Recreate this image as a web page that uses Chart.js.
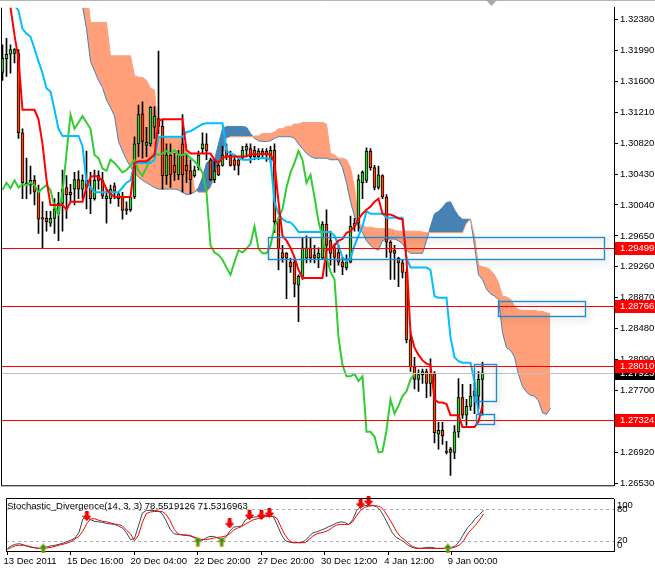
<!DOCTYPE html>
<html>
<head>
<meta charset="utf-8">
<script src="https://cdn.jsdelivr.net/npm/chart.js@4.4.1/dist/chart.umd.min.js"></script>
<style>
  html, body { margin: 0; padding: 0; background: #fff; }
  #wrap { position: relative; width: 655px; height: 569px; overflow: hidden; background: #fff; }
  #wrap canvas { position: absolute; left: 0; }
  #main { top: 0; }
  #stoch { top: 493px; }
</style>
</head>
<body>
<div id="wrap">
  <canvas id="main" width="655" height="493"></canvas>
  <canvas id="stoch" width="655" height="76"></canvas>
</div>
<script>
/* EURUSD H4 - Ichimoku + Stochastic_Divergence */

const opens = [
  1.3171,1.3188,1.3194,1.3195,1.3195,1.3095,1.3032,1.3029,1.3035,1.3020,
  1.2988,1.2987,1.2981,1.2987,1.2993,1.3006,1.3026,1.3020,1.3024,1.3036,
  1.3024,1.3035,1.3026,1.3012,1.3041,1.3035,1.3012,1.3012,1.3028,1.3012,
  1.3015,1.2997,1.2998,1.3014,1.3081,1.3119,1.3079,1.3081,1.3102,1.3113,
  1.3103,1.3041,1.3067,1.3054,1.3042,1.3081,1.3054,1.3047,1.3041,1.3051,
  1.3075,1.3081,1.3061,1.3036,1.3054,1.3054,1.3073,1.3067,1.3061,1.3061,
  1.3063,1.3073,1.3075,1.3073,1.3065,1.3072,1.3072,1.3061,1.3073,1.2986,
  1.2944,1.2943,1.2932,1.2932,1.2903,1.2914,1.2937,1.2950,1.2941,1.2937,
  1.2937,1.2980,1.2959,1.2950,1.2944,1.2932,1.2925,1.2932,1.2977,1.2981,
  1.3032,1.3035,1.3072,1.3051,1.3026,1.3041,1.3014,1.2957,1.2947,1.2937,
  1.2931,1.2919,1.2834,1.2800,1.2784,1.2790,1.2794,1.2779,1.2791,1.2715,
  1.2720,1.2693,1.2696,1.2692,1.2718,1.2761,1.2739,1.2750,1.2769,1.2763,
  1.2784
];
const highs = [
  1.3206,1.3214,1.3206,1.3201,1.3200,1.3100,1.3063,1.3053,1.3041,1.3029,
  1.3008,1.2996,1.2996,1.3012,1.3020,1.3048,1.3041,1.3030,1.3045,1.3047,
  1.3042,1.3072,1.3045,1.3048,1.3047,1.3045,1.3024,1.3029,1.3032,1.3020,
  1.3020,1.3008,1.3014,1.3090,1.3130,1.3134,1.3102,1.3128,1.3128,1.3198,
  1.3112,1.3081,1.3081,1.3069,1.3073,1.3118,1.3067,1.3061,1.3053,1.3072,
  1.3095,1.3094,1.3063,1.3059,1.3059,1.3078,1.3081,1.3072,1.3067,1.3065,
  1.3078,1.3081,1.3081,1.3078,1.3075,1.3075,1.3075,1.3078,1.3081,1.2987,
  1.2953,1.2944,1.2937,1.2937,1.2916,1.2963,1.2965,1.2963,1.2953,1.2950,
  1.2983,1.2998,1.2971,1.2955,1.2953,1.2938,1.2941,1.2990,1.2987,1.3042,
  1.3047,1.3076,1.3075,1.3054,1.3053,1.3042,1.3017,1.2959,1.2953,1.2938,
  1.2935,1.2922,1.2845,1.2812,1.2796,1.2797,1.2797,1.2810,1.2794,1.2730,
  1.2730,1.2706,1.2698,1.2726,1.2785,1.2778,1.2759,1.2778,1.2779,1.2794,
  1.2806
];
const lows = [
  1.3161,1.3166,1.3170,1.3183,1.3088,1.3012,1.3012,1.3018,1.3004,1.2968,
  1.2949,1.2971,1.2977,1.2968,1.2959,1.2971,1.2987,1.3008,1.3004,1.3012,
  1.3012,1.2999,1.2993,1.3010,1.3024,1.3012,1.2981,1.3006,1.3012,1.3002,
  1.2986,1.2992,1.2996,1.3012,1.3065,1.3063,1.3065,1.3078,1.3088,1.3094,
  1.3024,1.3030,1.3026,1.3035,1.3036,1.3020,1.3032,1.3018,1.3039,1.3048,
  1.3069,1.3061,1.3035,1.3032,1.3041,1.3053,1.3061,1.3053,1.3048,1.3042,
  1.3061,1.3065,1.3057,1.3061,1.3061,1.3063,1.3059,1.3057,1.2969,1.2922,
  1.2932,1.2886,1.2919,1.2888,1.2857,1.2910,1.2931,1.2932,1.2931,1.2925,
  1.2935,1.2914,1.2928,1.2919,1.2928,1.2916,1.2922,1.2931,1.2971,1.2971,
  1.3012,1.3032,1.3048,1.3023,1.3024,1.3012,1.2938,1.2910,1.2910,1.2901,
  1.2912,1.2830,1.2794,1.2772,1.2769,1.2779,1.2761,1.2763,1.2704,1.2696,
  1.2702,1.2690,1.2663,1.2684,1.2711,1.2735,1.2726,1.2745,1.2741,1.2747,
  1.2739
];
const closes = [
  1.3189,1.3194,1.3200,1.3200,1.3095,1.3032,1.3029,1.3035,1.3020,1.2986,
  1.2986,1.2983,1.2987,1.2999,1.3006,1.3024,1.3017,1.3017,1.3036,1.3024,
  1.3035,1.3026,1.3012,1.3035,1.3035,1.3015,1.3015,1.3024,1.3021,1.3018,
  1.2997,1.2999,1.3014,1.3081,1.3118,1.3084,1.3083,1.3127,1.3116,1.3103,
  1.3041,1.3067,1.3042,1.3045,1.3067,1.3042,1.3047,1.3036,1.3048,1.3067,
  1.3081,1.3072,1.3036,1.3047,1.3042,1.3067,1.3065,1.3054,1.3054,1.3054,
  1.3073,1.3078,1.3065,1.3065,1.3072,1.3067,1.3067,1.3073,1.2983,1.2949,
  1.2937,1.2937,1.2926,1.2904,1.2914,1.2950,1.2950,1.2937,1.2937,1.2943,
  1.2980,1.2953,1.2943,1.2938,1.2932,1.2926,1.2932,1.2977,1.2981,1.3036,
  1.3045,1.3072,1.3051,1.3026,1.3042,1.3014,1.2957,1.2944,1.2943,1.2931,
  1.2919,1.2834,1.2800,1.2784,1.2790,1.2794,1.2779,1.2791,1.2717,1.2720,
  1.2713,1.2692,1.2692,1.2718,1.2761,1.2739,1.2750,1.2763,1.2763,1.2784,
  1.27923
];

const tenkan = [
  1.3302,1.3277,1.3253,1.3218,1.3188,1.3124,1.3124,1.3124,1.3124,1.3112,
  1.3081,1.3036,1.3004,1.3004,1.3004,1.3004,1.2998,1.3008,1.3008,1.3008,
  1.3008,1.3026,1.3039,1.3041,1.3039,1.3035,1.3024,1.3018,1.3014,1.3014,
  1.3014,1.3014,1.3014,1.3057,1.3059,1.3059,1.3059,1.3063,1.3067,1.3110,
  1.3112,1.3112,1.3112,1.3112,1.3112,1.3112,1.3073,1.3069,1.3069,1.3069,
  1.3069,1.3069,1.3069,1.3061,1.3057,1.3063,1.3065,1.3065,1.3065,1.3065,
  1.3065,1.3065,1.3068,1.3068,1.3068,1.3068,1.3068,1.3068,1.3057,1.3008,
  1.2965,1.2959,1.2950,1.2938,1.2922,1.2912,1.2912,1.2912,1.2912,1.2912,
  1.2912,1.2947,1.2949,1.2953,1.2959,1.2961,1.2969,1.2971,1.2977,1.2986,
  1.2993,1.2998,1.3002,1.3008,1.3012,1.2993,1.2992,1.2992,1.2990,1.2987,
  1.2986,1.2935,1.2843,1.2824,1.2815,1.2808,1.2804,1.2802,1.2759,1.2755,
  1.2755,1.2753,1.2739,1.2739,1.2739,1.2724,1.2724,1.2724,1.2724,1.2731,
  1.2751
];
const kijun = [
  1.3289,1.3277,1.3265,1.3256,1.3249,1.3226,1.3220,1.3216,1.3201,1.3185,
  1.3170,1.3151,1.3147,1.3124,1.3100,1.3091,1.3091,1.3091,1.3091,1.3091,
  1.3078,1.3032,1.3026,1.3020,1.3020,1.3020,1.3020,1.3020,1.3020,1.3020,
  1.3026,1.3032,1.3035,1.3057,1.3057,1.3057,1.3057,1.3057,1.3061,1.3090,
  1.3090,1.3090,1.3090,1.3090,1.3090,1.3090,1.3096,1.3097,1.3100,1.3103,
  1.3106,1.3107,1.3107,1.3107,1.3107,1.3107,1.3072,1.3069,1.3067,1.3063,
  1.3061,1.3061,1.3061,1.3063,1.3063,1.3063,1.3063,1.3061,1.3008,1.2993,
  1.2986,1.2983,1.2982,1.2977,1.2970,1.2970,1.2970,1.2970,1.2970,1.2970,
  1.2970,1.2970,1.2970,1.2965,1.2953,1.2938,1.2933,1.2937,1.2953,1.2965,
  1.2977,1.2996,1.2993,1.2993,1.2993,1.2993,1.2988,1.2988,1.2988,1.2988,
  1.2988,1.2937,1.2925,1.2925,1.2925,1.2925,1.2925,1.2922,1.2889,1.2887,
  1.2887,1.2887,1.2837,1.2812,1.2807,1.2805,1.2805,1.2805,1.2782,1.2741,
  1.2739
];
// chikou span, plotted from bar 0
const chikou = [
  1.3023,1.3032,1.3025,1.3035,1.3026,1.3030,1.3029,1.3032,1.3029,1.3020,
  1.3025,1.3029,1.3023,1.3002,1.2993,1.3020,1.3069,1.3118,1.3100,1.3108,
  1.3116,1.3108,1.3100,1.3067,1.3063,1.3050,1.3047,1.3061,1.3057,1.3051,
  1.3045,1.3048,1.3054,1.3061,1.3047,1.3041,1.3051,1.3063,1.3069,1.3067,
  1.3069,1.3072,1.3069,1.3073,1.3067,1.3067,1.3069,1.3063,1.3059,1.3053,
  1.3045,1.3020,1.2953,1.2944,1.2941,1.2935,1.2925,1.2916,1.2932,1.2947,
  1.2944,1.2949,1.2955,1.2977,1.2949,1.2943,1.2943,1.2953,1.2977,1.2987,
  1.2999,1.3026,1.3045,1.3057,1.3072,1.3061,1.3032,1.3042,1.3014,1.2983,
  1.2963,1.2937,1.2920,1.2910,1.2837,1.2802,1.2788,1.2788,1.2791,1.2782,
  1.2788,1.2718,1.2718,1.2712,1.2692,1.2693,1.2720,1.2759,1.2741,1.2751,
  1.2763,1.2769,1.2784,1.2791
];
// cloud, starting at bar 20
const cloudStart = 20;
const spanA = [
  1.3255,1.3226,1.3185,1.3173,1.3161,1.3152,1.3136,1.3127,1.3116,1.3084,
  1.3072,1.3061,1.3052,1.3045,1.3039,1.3035,1.3032,1.3029,1.3026,1.3024,
  1.3024,1.3024,1.3024,1.3024,1.3023,1.3020,1.3017,1.3018,1.3020,1.3026,
  1.3039,1.3057,1.3061,1.3061,1.3081,1.3100,1.3103,1.3103,1.3103,1.3103,
  1.3103,1.3102,1.3094,1.3088,1.3085,1.3084,1.3084,1.3085,1.3088,1.3090,
  1.3090,1.3090,1.3090,1.3088,1.3081,1.3075,1.3069,1.3065,1.3063,1.3063,
  1.3063,1.3063,1.3061,1.3061,1.3061,1.3051,1.3032,1.3008,1.2990,1.2977,
  1.2969,1.2959,1.2953,1.2949,1.2947,1.2959,1.2961,1.2961,1.2961,1.2959,
  1.2955,1.2947,1.2943,1.2943,1.2943,1.2943,1.2959,1.2977,1.2993,1.2996,
  1.3001,1.3007,1.3008,1.2998,1.2990,1.2986,1.2986,1.2986,1.2953,1.2916,
  1.2910,1.2898,1.2892,1.2889,1.2885,1.2843,1.2824,1.2821,1.2812,1.2790,
  1.2775,1.2768,1.2764,1.2763,1.2757,1.2742,1.2740,1.2748
];
const spanB = [
  1.3302,1.3277,1.3234,1.3234,1.3234,1.3234,1.3234,1.3192,1.3192,1.3192,
  1.3192,1.3192,1.3192,1.3167,1.3165,1.3165,1.3161,1.3151,1.3149,1.3090,
  1.3090,1.3090,1.3090,1.3090,1.3090,1.3090,1.3069,1.3057,1.3023,1.3020,
  1.3020,1.3020,1.3026,1.3039,1.3057,1.3063,1.3088,1.3090,1.3090,1.3090,
  1.3090,1.3090,1.3090,1.3091,1.3091,1.3094,1.3094,1.3094,1.3096,1.3100,
  1.3100,1.3103,1.3103,1.3106,1.3106,1.3108,1.3108,1.3108,1.3108,1.3108,
  1.3108,1.3106,1.3069,1.3067,1.3063,1.3063,1.3061,1.3051,1.3026,1.2981,
  1.2977,1.2976,1.2976,1.2975,1.2974,1.2974,1.2974,1.2974,1.2972,1.2971,
  1.2971,1.2971,1.2971,1.2971,1.2971,1.2970,1.2969,1.2969,1.2969,1.2969,
  1.2969,1.2969,1.2969,1.2969,1.2969,1.2969,1.2981,1.2986,1.2965,1.2928,
  1.2926,1.2925,1.2922,1.2916,1.2906,1.2889,1.2888,1.2885,1.2877,1.2872,
  1.2871,1.2871,1.2871,1.2871,1.2870,1.2870,1.2868,1.2867
];

const stochMain = [
  5,10,13,14,12,9,7,6,5,6,
  8,10,11,13,15,18,21,25,35,62,
  65,60,57,56,55,53,52,51,48,44,
  35,22,24,48,73,78,78,78,77,72,
  58,42,33,32,31,30,29,26,22,20,
  25,28,28,25,22,26,38,46,47,48,
  60,64,65,66,68,68,68,66,50,32,
  20,17,16,16,16,20,28,35,37,40,
  43,47,50,54,56,55,51,60,78,85,
  87,88,88,85,78,65,50,35,26,22,
  17,11,7,5,5,6,7,7,5,5,
  5,6,7,10,20,33,45,53,63,70,
  78.55
];
const stochSignal = [
  3,7,10,11,11,10,8,6,5,5,
  6,7,9,11,13,15,18,23,28,38,
  53,62,62,59,57,56,54,52,51,48,
  40,33,20,30,55,72,75,76,76,76,
  70,58,42,33,31,31,30,27,24,22,
  22,23,25,26,27,29,33,40,44,47,
  52,56,60,62,64,66,67,67,62,45,
  30,20,16,16,16,16,22,29,33,35,
  37,40,46,50,51,51,51,56,68,78,
  84,86,87,87,85,77,65,52,38,28,
  22,15,9,6,5,5,5,5,5,5,
  5,5,6,8,12,20,33,42,50,60,
  71.53
];
const downArrowBars = [20, 56, 61, 64, 66, 89, 91];
const downArrowVals = [67, 53, 69, 69, 73, 91, 96];
const upArrowBars = [9, 48, 54, 111];
const upArrowVals = [5, 18, 18, 5];

const priceTicks = [1.32380,1.31990,1.31600,1.31210,1.30820,1.30430,1.30040,1.29650,
                    1.29260,1.28870,1.28480,1.28090,1.27700,1.26920,1.26530];
const timeTickBars = [0, 16, 32, 48, 64, 80, 96, 112];
const timeTickLabels = ['13 Dec 2011','15 Dec 16:00','20 Dec 04:00','22 Dec 20:00',
                        '27 Dec 20:00','30 Dec 12:00','4 Jan 12:00','9 Jan 00:00'];

const redLevels = [1.29499, 1.28766, 1.28010, 1.27324];
const bidLevel = 1.27923;
// [fromBar, toBar, priceTop, priceBottom]
const boxes = [
  [66.25, 150.25, 1.2964, 1.2936],
  [123.75, 145.5, 1.2883, 1.2864],
  [117.75, 123.25, 1.2804, 1.2757],
  [118.25, 122.75, 1.2741, 1.2728]
];
const stochTitle = 'Stochastic_Divergence(14, 3, 3) 78.5519126 71.5316963';

const FONT = '"Liberation Sans", Arial, sans-serif';
const FSIZE = 9.5;
const X_MIN = -0.375, X_MAX = 152.875;
const SALMON = '#ffa07a', STEEL = '#4682b4';

const pts = (arr, from = 0) => arr.map((v, i) => ({ x: i + from, y: v }));
const barIdx = opens.map((_, i) => i);

function makeArrow(fill, edge, up) {
  const c = document.createElement('canvas');
  c.width = 9; c.height = 10;
  const g = c.getContext('2d');
  g.beginPath();
  if (up) {
    g.moveTo(4.5, 0.5); g.lineTo(8.5, 5); g.lineTo(6, 5); g.lineTo(6, 9.5);
    g.lineTo(3, 9.5); g.lineTo(3, 5); g.lineTo(0.5, 5);
  } else {
    g.moveTo(4.5, 9.5); g.lineTo(8.5, 5); g.lineTo(6, 5); g.lineTo(6, 0.5);
    g.lineTo(3, 0.5); g.lineTo(3, 5); g.lineTo(0.5, 5);
  }
  g.closePath();
  g.fillStyle = fill; g.fill();
  g.strokeStyle = edge; g.lineWidth = 1; g.stroke();
  return c;
}
const arrowDown = makeArrow('#ff0000', '#e00000', false);
const arrowUp = makeArrow('#1a9a1a', '#d0a020', true);

function priceLabel(ctx, y, text, bg) {
  ctx.fillStyle = bg;
  ctx.fillRect(615, Math.round(y) - 6, 40, 13);
  ctx.fillStyle = '#fff';
  ctx.font = FSIZE + 'px ' + FONT;
  ctx.textBaseline = 'middle';
  ctx.textAlign = 'left';
  ctx.fillText(text, 620, Math.round(y) + 0.5);
}

const mainOverlay = {
  id: 'mainOverlay',
  afterDatasetsDraw(chart) {
    const { ctx, chartArea: a, scales: { x, y } } = chart;
    ctx.save();
    ctx.beginPath();
    ctx.rect(a.left, a.top, a.right - a.left, a.bottom - a.top);
    ctx.clip();
    // bid line
    let yb = Math.round(y.getPixelForValue(bidLevel)) + 0.5;
    ctx.strokeStyle = '#c0c0c0'; ctx.lineWidth = 1;
    ctx.beginPath(); ctx.moveTo(a.left, yb); ctx.lineTo(a.right, yb); ctx.stroke();
    // red levels
    ctx.strokeStyle = '#ff0000';
    redLevels.forEach(v => {
      const py = Math.round(y.getPixelForValue(v)) + 0.5;
      ctx.beginPath(); ctx.moveTo(a.left, py); ctx.lineTo(a.right, py); ctx.stroke();
    });
    // rectangles with soft shadow
    boxes.forEach(b => {
      const x0 = Math.round(x.getPixelForValue(b[0])) + 0.5;
      const x1 = Math.round(x.getPixelForValue(b[1])) + 0.5;
      const y0 = Math.round(y.getPixelForValue(b[2])) + 0.5;
      const y1 = Math.round(y.getPixelForValue(b[3])) + 0.5;
      ctx.save();
      ctx.shadowColor = 'rgba(0,0,0,0.35)';
      ctx.shadowBlur = 7; ctx.shadowOffsetX = 2; ctx.shadowOffsetY = 3;
      ctx.strokeStyle = '#1f8ad0'; ctx.lineWidth = 1.2;
      ctx.strokeRect(x0, y0, x1 - x0, y1 - y0);
      ctx.restore();
      ctx.strokeStyle = '#1f8ad0'; ctx.lineWidth = 1.2;
      ctx.strokeRect(x0, y0, x1 - x0, y1 - y0);
    });
    ctx.restore();
  },
  afterDraw(chart) {
    const { ctx, chartArea: a, scales: { y } } = chart;
    ctx.save();
    ctx.strokeStyle = '#000'; ctx.lineWidth = 1;
    ctx.beginPath();
    ctx.moveTo(a.left + 0.5, a.top); ctx.lineTo(a.left + 0.5, a.bottom + 0.5);
    ctx.lineTo(a.right, a.bottom + 0.5);
    ctx.stroke();
    // window edge on top
    ctx.strokeStyle = '#b4b4b4';
    ctx.beginPath(); ctx.moveTo(0, 0.5); ctx.lineTo(655, 0.5); ctx.stroke();
    // shift marker
    ctx.fillStyle = '#a8a8a8';
    ctx.beginPath(); ctx.moveTo(486, 0); ctx.lineTo(497, 0); ctx.lineTo(491.5, 6); ctx.closePath(); ctx.fill();
    // price labels on the axis
    priceLabel(ctx, y.getPixelForValue(bidLevel), bidLevel.toFixed(5), '#000');
    redLevels.forEach(v => priceLabel(ctx, y.getPixelForValue(v), v.toFixed(5), '#ff0000'));
    ctx.restore();
  }
};

new Chart(document.getElementById('main'), {
  type: 'bar',
  data: {
    datasets: [
      { type: 'line', label: 'Senkou Span A', data: pts(spanA, cloudStart),
        borderColor: STEEL, borderWidth: 1, pointRadius: 0, tension: 0,
        fill: { target: 1, above: STEEL, below: SALMON }, order: 10 },
      { type: 'line', label: 'Senkou Span B', data: pts(spanB, cloudStart),
        borderColor: SALMON, borderWidth: 1, pointRadius: 0, tension: 0, fill: false, order: 9 },
      { label: 'Wicks', data: barIdx.map(i => ({ x: i, y: [lows[i], highs[i]] })),
        backgroundColor: '#000', barThickness: 1, grouped: false, order: 8 },
      { label: 'Bodies', data: barIdx.map(i => ({ x: i, y: [opens[i], closes[i]] })),
        backgroundColor: barIdx.map(i => closes[i] >= opens[i] ? '#32cd32' : '#ff4500'),
        borderColor: '#000', borderWidth: 1, borderSkipped: false,
        barThickness: 3, minBarLength: 1, grouped: false, order: 7 },
      { type: 'line', label: 'Chikou Span', data: pts(chikou),
        borderColor: '#32cd32', borderWidth: 2, pointRadius: 0, tension: 0, order: 5 },
      { type: 'line', label: 'Kijun-sen', data: pts(kijun),
        borderColor: '#00bfff', borderWidth: 2, pointRadius: 0, tension: 0, order: 4 },
      { type: 'line', label: 'Tenkan-sen', data: pts(tenkan),
        borderColor: '#ff0000', borderWidth: 2, pointRadius: 0, tension: 0, order: 3 }
    ]
  },
  options: {
    responsive: false,
    animation: false,
    devicePixelRatio: 1,
    layout: { padding: { left: 1, right: 0, top: 0, bottom: 1 } },
    plugins: { legend: { display: false }, tooltip: { enabled: false } },
    scales: {
      x: { type: 'linear', min: X_MIN, max: X_MAX, offset: false, display: false },
      y: {
        type: 'linear', position: 'right',
        min: 1.265055, max: 1.325269,
        afterBuildTicks: s => { s.ticks = priceTicks.map(v => ({ value: v })); },
        afterFit: s => { s.width = 41; },
        grid: { drawOnChartArea: false, drawTicks: true, tickLength: 4, color: '#000' },
        border: { display: true, color: '#000' },
        ticks: { autoSkip: false, padding: 2, color: '#000',
                 font: { family: FONT, size: FSIZE }, callback: v => v.toFixed(5) }
      }
    }
  },
  plugins: [mainOverlay]
});

const stochOverlay = {
  id: 'stochOverlay',
  beforeDatasetsDraw(chart) {
    const { ctx, chartArea: a, scales: { y } } = chart;
    ctx.save();
    ctx.strokeStyle = '#b0b0b0'; ctx.lineWidth = 1; ctx.setLineDash([3, 3]);
    [80, 20].forEach(v => {
      const py = Math.round(y.getPixelForValue(v)) + 0.5;
      ctx.beginPath(); ctx.moveTo(a.left, py); ctx.lineTo(a.right, py); ctx.stroke();
    });
    ctx.restore();
  },
  afterDraw(chart) {
    const { ctx, chartArea: a, scales: { y } } = chart;
    ctx.save();
    ctx.strokeStyle = '#000'; ctx.lineWidth = 1;
    ctx.beginPath();
    ctx.moveTo(a.left + 0.5, a.bottom); ctx.lineTo(a.left + 0.5, a.top - 0.5);
    ctx.lineTo(a.right, a.top - 0.5);
    ctx.stroke();
    ctx.fillStyle = '#000';
    ctx.font = FSIZE + 'px ' + FONT;
    ctx.textBaseline = 'middle';
    ctx.textAlign = 'left';
    ctx.fillText(stochTitle, 7, a.top + 7);
    [[100, 6], [80, 0], [20, -1], [0, -6]].forEach(([v, off]) => {
      ctx.fillText(String(v), 617, Math.round(y.getPixelForValue(v)) + off);
    });
    ctx.restore();
  }
};

new Chart(document.getElementById('stoch'), {
  type: 'line',
  data: {
    datasets: [
      { label: 'Main', data: pts(stochMain), borderColor: '#2f4f4f', borderWidth: 1,
        pointRadius: 0, tension: 0, order: 3 },
      { label: 'Signal', data: pts(stochSignal), borderColor: '#ff0000', borderWidth: 1,
        pointRadius: 0, tension: 0, order: 2 },
      { label: 'Sell', data: downArrowBars.map((b, i) => ({ x: b, y: downArrowVals[i] })),
        showLine: false, pointStyle: arrowDown, pointRadius: 5, clip: false, order: 1 },
      { label: 'Buy', data: upArrowBars.map((b, i) => ({ x: b, y: upArrowVals[i] })),
        showLine: false, pointStyle: arrowUp, pointRadius: 5, clip: false, order: 1 }
    ]
  },
  options: {
    responsive: false,
    animation: false,
    devicePixelRatio: 1,
    layout: { padding: { left: 1, right: 0, top: 3, bottom: 0 } },
    plugins: { legend: { display: false }, tooltip: { enabled: false } },
    scales: {
      x: {
        type: 'linear', min: X_MIN, max: X_MAX, offset: false,
        afterBuildTicks: s => { s.ticks = timeTickBars.map(v => ({ value: v })); },
        afterFit: s => { s.height = 18; },
        grid: { drawOnChartArea: false, drawTicks: true, tickLength: 4, color: '#000' },
        border: { display: true, color: '#000' },
        ticks: { autoSkip: false, maxRotation: 0, align: 'start', padding: 1, labelOffset: -4,
                 color: '#000', font: { family: FONT, size: FSIZE },
                 callback: (v, i) => timeTickLabels[i] }
      },
      y: {
        type: 'linear', position: 'right', min: 0, max: 100,
        afterFit: s => { s.width = 41; },
        grid: { display: false },
        border: { display: true, color: '#000' },
        ticks: { display: false }
      }
    }
  },
  plugins: [stochOverlay]
});
</script>
</body>
</html>
